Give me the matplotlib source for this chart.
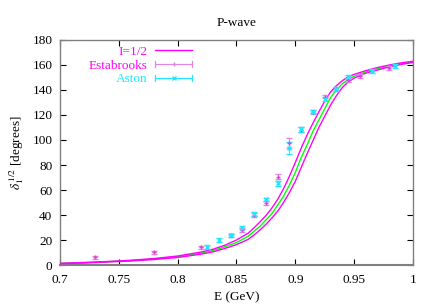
import numpy as np
import matplotlib
matplotlib.use("Agg")
import matplotlib.pyplot as plt
from matplotlib.legend_handler import HandlerBase
from matplotlib.lines import Line2D

# Curves (I=1/2 P-wave phase shift): central and band
E_curve = [0.70, 0.72, 0.74, 0.76, 0.78, 0.80, 0.82, 0.83, 0.84, 0.85, 0.86, 0.865,
           0.87, 0.875, 0.88, 0.885, 0.89, 0.895, 0.90, 0.905, 0.91, 0.915, 0.92,
           0.925, 0.93, 0.935, 0.94, 0.945, 0.95, 0.96, 0.97, 0.98, 0.99, 1.00]
central = [1.2, 1.8, 2.6, 3.5, 4.8, 6.6, 9.5, 11.5, 14.5, 18, 23, 27,
           31, 36, 41, 48, 55, 64, 74, 86, 96, 107, 116,
           125, 134, 140, 145, 148.5, 151, 154.5, 157, 159, 161, 162.5]
upper = [1.4, 2.0, 2.8, 3.8, 5.2, 7.2, 10.4, 12.6, 15.8, 20, 25.5, 29.8,
         34.5, 39.5, 45.5, 52.5, 61, 71, 82, 93.5, 104, 113.5, 122.5,
         131, 138.5, 143.5, 147.5, 150.5, 152.5, 155.5, 158, 160, 161.7, 163]
lower = [1.0, 1.6, 2.4, 3.2, 4.4, 6.0, 8.7, 10.5, 13.2, 16.3, 20.5, 24,
         28, 32.5, 37.5, 43, 50, 58, 67, 78, 89, 99.5, 110,
         119, 128, 135.5, 142, 146.5, 149.5, 153.5, 156, 158.5, 160.5, 162]

# Estabrooks data
E_est = [0.73, 0.78, 0.82, 0.845, 0.855, 0.865, 0.875, 0.885, 0.895, 0.905,
         0.915, 0.925, 0.935, 0.945, 0.955, 0.98]
d_est = [6.2, 10.1, 14.1, 23.7, 28.3, 40, 49.9, 70.7, 97.5, 108,
         122.5, 134.7, 140.5, 148, 151.2, 157.3]
e_est = [1.2, 1.2, 1.2, 1.2, 1.5, 1.5, 1.5, 1.8, 4.0, 2.0,
         1.5, 1.5, 1.5, 1.5, 1.5, 1.5]

# Aston data
E_ast = [0.825, 0.835, 0.845, 0.855, 0.865, 0.875, 0.885, 0.895, 0.905, 0.915,
         0.925, 0.935, 0.945, 0.965, 0.985]
d_ast = [14.7, 20, 23.7, 30, 41, 52.5, 65.3, 93.5, 108.5, 122.7,
         132.5, 141, 150.1, 155.2, 159.2]
e_ast = [1.5, 1.5, 1.5, 1.5, 1.5, 1.5, 1.8, 5.0, 2.0, 1.5,
         1.5, 1.5, 1.5, 1.5, 1.5]

xticks = [0.7, 0.75, 0.8, 0.85, 0.9, 0.95, 1.0]
xticklabels = ["0.7", "0.75", "0.8", "0.85", "0.9", "0.95", "1"]
yticks = [0, 20, 40, 60, 80, 100, 120, 140, 160, 180]

plt.rcParams['font.family'] = ['Liberation Serif', 'DejaVu Serif']
plt.rcParams['mathtext.fontset'] = 'stix'
FS = 9.5

fig = plt.figure(figsize=(4.36, 3.05), dpi=100)
ax = fig.add_axes([0.1376, 0.1311, 0.8096, 0.7378])

mag = '#ff00ff'
grn = '#00ff00'
est_c = '#e040e0'
est_bar = '#e088e0'
ast_c = '#20e8ff'

ax.plot(E_curve, central, color=grn, lw=1.0, zorder=3)
lu, = ax.plot(E_curve, upper, color=mag, lw=1.0, zorder=3, label='I=1/2')
ax.plot(E_curve, lower, color=mag, lw=1.0, zorder=3)

ax.errorbar(E_est, d_est, yerr=e_est, fmt='+', color=est_c, ecolor=est_bar,
            ms=3, mew=1.0, elinewidth=0.8, capsize=2, capthick=0.8, zorder=4)
ax.errorbar(E_ast, d_ast, yerr=e_ast, fmt='x', color=ast_c, ecolor=ast_c,
            ms=3, mew=1.0, elinewidth=0.8, capsize=2, capthick=0.8, zorder=4)


class KeyErr(HandlerBase):
    def __init__(self, color, marker):
        super().__init__()
        self.color = color
        self.marker = marker

    def create_artists(self, legend, orig, xd, yd, w, h, fs, trans):
        y = yd + h / 2.0
        arts = [Line2D([xd, xd + w], [y, y], color=self.color, lw=0.9, transform=trans)]
        for xx in (xd, xd + w):
            arts.append(Line2D([xx, xx], [y - 2.2, y + 2.2], color=self.color, lw=0.9,
                               transform=trans))
        arts.append(Line2D([xd + w / 2], [y], marker=self.marker, ms=3, mew=1.0,
                           color=self.color, transform=trans))
        return arts


p_est = Line2D([], [], label='Estabrooks')
p_ast = Line2D([], [], label='Aston')

ax.set_xlim(0.7, 1.0)
ax.set_ylim(0, 180)
ax.set_xticks(xticks)
ax.set_xticklabels(xticklabels)
ax.set_yticks(yticks)
ax.tick_params(direction='in', top=True, right=True, length=4, width=0.8,
               labelsize=FS, colors='black')
ax.tick_params(axis='x', pad=6.5)
ax.tick_params(axis='y', pad=5.5)
for s in ax.spines.values():
    s.set_color('#808080')
    s.set_linewidth(1.0)
ax.spines['bottom'].set_linewidth(1.5)

ax.set_title('P-wave', fontsize=FS, pad=10)
ax.set_xlabel('E (GeV)', fontsize=FS, va='center')
ax.xaxis.set_label_coords(0.5, -0.142)
ax.set_ylabel(r'$\delta_1^{\,1/2}$ [degrees]', fontsize=FS, va='center')
ax.yaxis.set_label_coords(-0.122, 0.5)

leg = ax.legend(handles=[lu, p_est, p_ast], loc='upper right',
                handler_map={p_est: KeyErr(est_bar, '+'), p_ast: KeyErr(ast_c, 'x')},
                bbox_to_anchor=(0.374, 0.975), frameon=False, markerfirst=False,
                fontsize=FS, handlelength=2.8, handletextpad=0.6,
                labelspacing=0.12, borderpad=0.0, borderaxespad=0.0)
for txt, c in zip(leg.get_texts(), [mag, mag, ast_c]):
    txt.set_color(c)

fig.savefig('out.png', dpi=100)
